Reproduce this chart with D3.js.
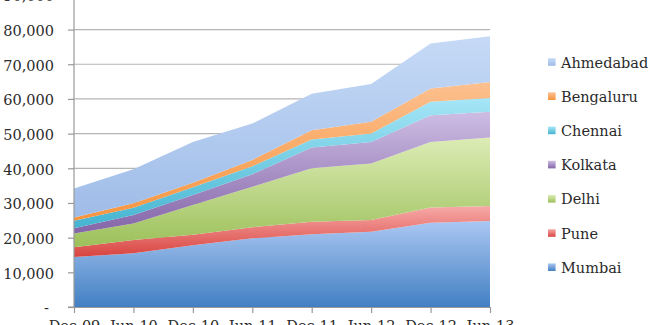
<!DOCTYPE html>
<html><head><meta charset="utf-8">
<script src="https://cdn.jsdelivr.net/npm/d3@7"></script>
<style>body{margin:0;background:#fff}svg{display:block}</style>
</head><body>
<svg id="c" width="650" height="325"></svg>
<script>
const periods = ["Dec-09","Jun-10","Dec-10","Jun-11","Dec-11","Jun-12","Dec-12","Jun-13"];
const cities = ["Mumbai","Pune","Delhi","Kolkata","Chennai","Bengaluru","Ahmedabad"];
const mumbai    = [14400,15500,17800,19800,21000,21700,24300,24800];
const pune      = [2800,3800,3000,3200,3600,3400,4400,4300];
const delhi     = [4000,4800,8600,11700,15400,16300,18900,19800];
const kolkata   = [1500,2400,2900,3600,6000,6200,7700,7400];
const chennai   = [2200,2100,2200,2300,2300,2400,3900,4000];
const bengaluru = [900,1300,1300,1800,2700,3400,3800,4600];
const ahmedabad = [8400,9800,11800,10500,10500,10900,13000,13200];
const yTicks = [0,10000,20000,30000,40000,50000,60000,70000,80000,90000];
const colorsTop = ["#abc7f2","#f7aaa8","#dcecb5","#cdbde3","#a6e6f7","#fcc08f","#c6daf6"];
const colorsBot = ["#4280c3","#d8433f","#9cc05a","#8465a8","#45b4d0","#f7953f","#9fbce8"];

const seriesVals = [mumbai,pune,delhi,kolkata,chennai,bengaluru,ahmedabad];
const rows = periods.map((p,i)=>{const r={period:p}; cities.forEach((c,j)=>r[c]=seriesVals[j][i]); return r;});

const svg = d3.select("#c");
const x = d3.scalePoint().domain(periods).range([74,490]);
const y = d3.scaleLinear().domain([0,90000]).range([307,-5.1]);

const defs = svg.append("defs");
cities.forEach((c,i)=>{
  const g = defs.append("linearGradient").attr("id","g"+i).attr("x1",0).attr("y1",0).attr("x2",0).attr("y2",1);
  g.append("stop").attr("offset","0%").attr("stop-color",colorsTop[i]);
  g.append("stop").attr("offset","100%").attr("stop-color",colorsBot[i]);
});

// gridlines
svg.append("g").selectAll("line").data(yTicks.filter(d=>d>0)).join("line")
  .attr("x1",74).attr("x2",490).attr("y1",d=>y(d)).attr("y2",d=>y(d))
  .attr("stroke","#b5b5b5").attr("stroke-width",1.2);

const stack = d3.stack().keys(cities);
const series = stack(rows);
const area = d3.area().x(d=>x(d.data.period)).y0(d=>y(d[0])).y1(d=>y(d[1]));
svg.append("g").selectAll("path").data(series).join("path")
  .attr("d",area).attr("fill",(d,i)=>`url(#g${i})`);

// y axis
const yAxis = d3.axisLeft(y).tickValues(yTicks).tickSize(6).tickPadding(14)
  .tickFormat(d=> d===0 ? "-" : d3.format(",")(d));
const ya = svg.append("g").attr("transform","translate(74,0)").call(yAxis);
ya.select(".domain").attr("stroke","#999").attr("stroke-width",1.2).attr("d","M-6,-10H0V307H-6");
ya.selectAll(".tick line").attr("stroke","#999").attr("stroke-width",1.2);
ya.selectAll(".tick text").attr("font-family","DejaVu Serif").attr("font-size","14.5px").attr("fill","#2b2b2b").attr("dy","0.4em");
ya.selectAll(".tick").filter(d=>d===0).select("text").attr("x",-25);

// x axis
const xAxis = d3.axisBottom(x).tickSize(6).tickPadding(8).tickSizeOuter(0);
const xa = svg.append("g").attr("transform","translate(0,307)").call(xAxis);
xa.select(".domain").attr("stroke","#999").attr("stroke-width",1.2);
xa.selectAll(".tick line").attr("stroke","#999").attr("stroke-width",1.2);
xa.selectAll(".tick text").attr("font-family","DejaVu Serif").attr("font-size","14.5px").attr("fill","#2b2b2b").attr("dy","0.71em");

// legend
const legendOrder = cities.slice().reverse();
const lg = svg.append("g");
legendOrder.forEach((c,k)=>{
  const i = cities.indexOf(c);
  const cy = 62 + k*34.2;
  lg.append("rect").attr("x",548).attr("y",cy-3.8).attr("width",7.6).attr("height",7.6).attr("fill",`url(#g${i})`);
  lg.append("text").attr("x",561).attr("y",cy+5.5).attr("font-family","DejaVu Serif").attr("font-size","14.5px").attr("fill","#2b2b2b").text(c);
});
</script>
</body></html>
